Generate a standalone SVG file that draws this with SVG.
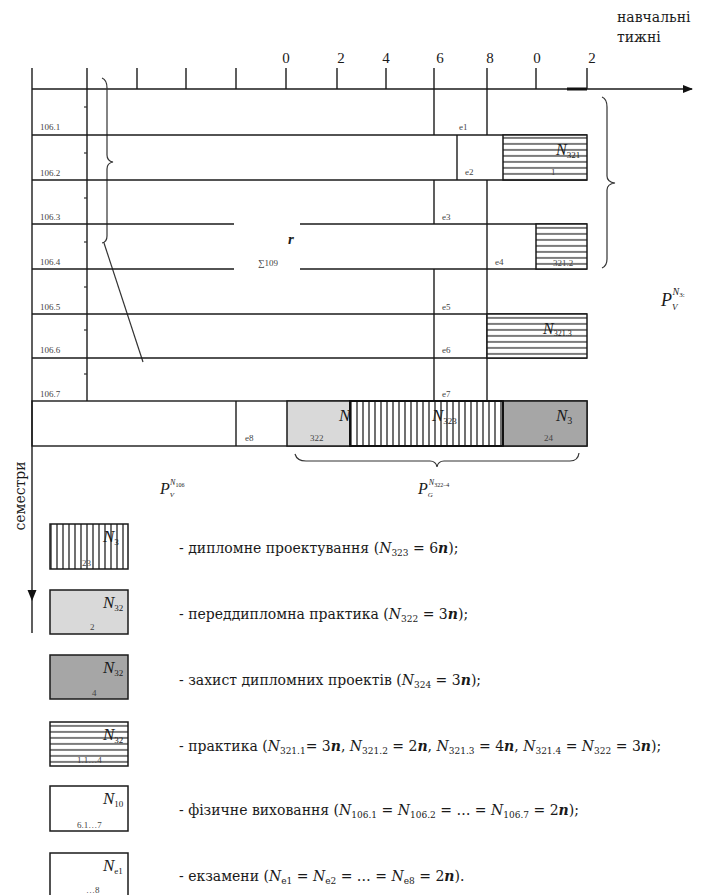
<svg xmlns="http://www.w3.org/2000/svg" width="701" height="895" viewBox="0 0 701 895">
<defs>
<pattern id="hh" patternUnits="userSpaceOnUse" width="10" height="6" y="0.5"><rect width="10" height="6" fill="#fff"/><line x1="0" y1="5.5" x2="10" y2="5.5" stroke="#111" stroke-width="1.2"/></pattern>
<pattern id="vh" patternUnits="userSpaceOnUse" width="6" height="10" x="0"><rect width="6" height="10" fill="#fff"/><line x1="3" y1="0" x2="3" y2="10" stroke="#111" stroke-width="1.2"/></pattern>
<marker id="arr" markerWidth="10" markerHeight="8" refX="9" refY="4" orient="auto" markerUnits="userSpaceOnUse"><path d="M0,0 L10,4 L0,8 z" fill="#111"/></marker>
</defs>
<style>
text{font-family:'Liberation Serif','Times New Roman',serif}
.ln{stroke:#1a1a1a;stroke-width:1.4;fill:none}
.tk{stroke:#1a1a1a;stroke-width:1.4}
.br{stroke:#333;stroke-width:1.2;fill:none}
.t{fill:#1a1a1a}
.ax{font-size:15px}
.sm{font-size:9px;fill:#444}
.it{font-style:italic;fill:#1a1a1a}
.lg{font-family:'DejaVu Serif',serif;font-size:14px;fill:#1a1a1a}
.box{stroke:#1a1a1a;stroke-width:1.5}
</style>
<rect width="701" height="895" fill="#fff"/>

<g id="connectors">
<line class="ln" x1="32" y1="89" x2="692" y2="89" marker-end="url(#arr)"/>
<line x1="567" y1="89" x2="587" y2="89" stroke="#111" stroke-width="3"/>
<line class="ln" x1="32" y1="68" x2="32" y2="633"/>
<path d="M27.5,590 L36.5,590 L32,601 z" fill="#111"/>
<line class="ln" x1="87" y1="68" x2="87" y2="401"/>
<g class="tk">
<line x1="137" y1="68" x2="137" y2="89"/><line x1="186" y1="68" x2="186" y2="89"/><line x1="236" y1="68" x2="236" y2="89"/><line x1="286" y1="68" x2="286" y2="89"/><line x1="337" y1="68" x2="337" y2="89"/><line x1="386" y1="68" x2="386" y2="89"/><line x1="536" y1="68" x2="536" y2="89"/><line x1="587" y1="68" x2="587" y2="89"/>
</g>
<g stroke="#333" stroke-width="1.2">
<line x1="84" y1="107" x2="87" y2="107"/><line x1="84" y1="153" x2="87" y2="153"/><line x1="84" y1="198" x2="87" y2="198"/><line x1="84" y1="242" x2="87" y2="242"/><line x1="84" y1="287" x2="87" y2="287"/><line x1="84" y1="330" x2="87" y2="330"/><line x1="84" y1="374" x2="87" y2="374"/>
</g>
<path class="br" d="M102,78 Q107,80 107,88 L107,155 Q107,161 113,162 Q107,163 107,169 L107,236 Q107,242 102,243"/>
<line class="br" x1="104" y1="243" x2="143" y2="362"/>
<path class="br" d="M602,97 Q607,99 607,107 L607,176 Q607,182 615,183 Q607,184 607,190 L607,259 Q607,266 602,268"/>
<path class="br" d="M295,454 Q297,461 306,461 L430,461 Q436,461 437,467 Q438,461 444,461 L570,461 Q578,461 579,453"/>
</g>

<g id="axis-labels">
<text class="t ax" x="286" y="63" text-anchor="middle">0</text>
<text class="t ax" x="341" y="63" text-anchor="middle">2</text>
<text class="t ax" x="386" y="63" text-anchor="middle">4</text>
<text class="t ax" x="440" y="63" text-anchor="middle">6</text>
<text class="t ax" x="490" y="63" text-anchor="middle">8</text>
<text class="t ax" x="537" y="63" text-anchor="middle">0</text>
<text class="t ax" x="592" y="63" text-anchor="middle">2</text>
<text class="t" x="617" y="22" font-size="14" style="font-family:'DejaVu Serif',serif">навчальні</text>
<text class="t" x="617" y="42" font-size="14" style="font-family:'DejaVu Serif',serif">тижні</text>
<text class="t" font-size="14" transform="translate(25,496) rotate(-90)" text-anchor="middle" style="font-family:'DejaVu Serif',serif">семестри</text>
</g>

<g id="grid">
<g class="ln">
<line x1="32" y1="135" x2="587" y2="135"/>
<line x1="32" y1="180" x2="587" y2="180"/>
<line x1="32" y1="224" x2="234" y2="224"/><line x1="300" y1="224" x2="587" y2="224"/>
<line x1="32" y1="269" x2="234" y2="269"/><line x1="300" y1="269" x2="587" y2="269"/>
<line x1="32" y1="314" x2="587" y2="314"/>
<line x1="32" y1="358" x2="587" y2="358"/>
<line x1="434" y1="68" x2="434" y2="135"/><line x1="434" y1="180" x2="434" y2="224"/><line x1="434" y1="269" x2="434" y2="401"/>
<line x1="487" y1="68" x2="487" y2="135"/><line x1="487" y1="180" x2="487" y2="401"/>
<line x1="457" y1="135" x2="457" y2="180"/>
</g>
<text class="sm" x="40" y="130">106.1</text>
<text class="sm" x="40" y="176">106.2</text>
<text class="sm" x="40" y="220">106.3</text>
<text class="sm" x="40" y="265">106.4</text>
<text class="sm" x="40" y="310">106.5</text>
<text class="sm" x="40" y="353">106.6</text>
<text class="sm" x="40" y="397">106.7</text>
<text class="sm" x="459" y="130">e1</text>
<text class="sm" x="465" y="175">e2</text>
<text class="sm" x="442" y="220">e3</text>
<text class="sm" x="495" y="265">e4</text>
<text class="sm" x="442" y="310">e5</text>
<text class="sm" x="442" y="353">e6</text>
<text class="sm" x="442" y="397">e7</text>
<text class="it" x="288" y="244" font-size="15" font-weight="bold">r</text>
<text class="sm" x="258" y="266">∑109</text>
</g>

<g id="practice-1">
<rect class="box" x="503" y="135" width="84" height="45" fill="url(#hh)"/>
<text class="it" x="556" y="155" font-size="16">N<tspan font-size="9" font-style="normal" dy="3">321</tspan></text>
<text class="sm" x="551" y="175" font-size="7">1</text>
</g>
<g id="practice-2">
<rect class="box" x="536" y="224" width="51" height="45" fill="url(#hh)"/>
<text class="sm" x="553" y="266">321.2</text>
</g>
<g id="practice-3">
<rect class="box" x="487" y="314" width="100" height="44" fill="url(#hh)"/>
<text class="it" x="543" y="334" font-size="16">N<tspan font-size="8" font-style="normal" dy="2">321.3</tspan></text>
</g>

<g id="bottom-row">
<rect class="ln" x="32" y="401" width="555" height="45"/>
<line class="ln" x1="236" y1="401" x2="236" y2="446"/>
<text class="sm" x="245" y="441">e8</text>
</g>
<g id="prediploma">
<rect x="287" y="401" width="63" height="45" fill="#d9d9d9" class="box"/>
<text class="it" x="339" y="421" font-size="17">N</text>
<text class="sm" x="310" y="441">322</text>
</g>
<g id="diploma">
<rect x="350" y="401" width="153" height="45" fill="url(#vh)" stroke="#111" stroke-width="2"/>
<text class="it" x="432" y="421" font-size="17">N<tspan font-size="9" font-style="normal" dy="3">323</tspan></text>
</g>
<g id="defense">
<rect x="503" y="401" width="84" height="45" fill="#a6a6a6" class="box"/>
<line x1="503" y1="401" x2="503" y2="446" stroke="#111" stroke-width="2"/>
<text class="it" x="556" y="421" font-size="17">N<tspan font-size="10" font-style="normal" dy="3">3</tspan></text>
<text class="sm" x="544" y="441">24</text>
</g>

<g id="p-labels">
<text class="it" x="160" y="494" font-size="16">P<tspan font-size="7" dy="3">V</tspan><tspan font-size="8" dx="-4" dy="-12">N</tspan><tspan font-size="6" font-style="normal" dy="2">106</tspan></text>
<text class="it" x="418" y="494" font-size="16">P<tspan font-size="7" dy="3">G</tspan><tspan font-size="8" dx="-4" dy="-12">N</tspan><tspan font-size="6" font-style="normal" dy="2">322–4</tspan></text>
<text class="it" x="661" y="306" font-size="18">P<tspan font-size="9" dy="4">V</tspan><tspan font-size="10" dx="-5" dy="-15">N</tspan><tspan font-size="7" font-style="normal" dy="2">3:</tspan></text>
</g>

<g id="legend-diploma">
<rect class="box" x="50" y="524" width="78" height="45" fill="url(#vh)"/>
<text class="it" x="103" y="542" font-size="17">N<tspan font-size="9" font-style="normal" dy="3">3</tspan></text>
<text class="sm" x="82" y="566" font-size="8">23</text>
<text class="lg" x="179" y="553">- дипломне проектування (<tspan font-style="italic">N</tspan><tspan font-size="9" dy="3">323</tspan><tspan dy="-3"> = 6</tspan><tspan font-style="italic" font-weight="bold">n</tspan>);</text>
</g>
<g id="legend-prediploma">
<rect class="box" x="50" y="590" width="78" height="44" fill="#d9d9d9"/>
<text class="it" x="103" y="608" font-size="17">N<tspan font-size="9" font-style="normal" dy="3">32</tspan></text>
<text class="sm" x="90" y="630" font-size="8">2</text>
<text class="lg" x="179" y="619">- переддипломна практика (<tspan font-style="italic">N</tspan><tspan font-size="9" dy="3">322</tspan><tspan dy="-3"> = 3</tspan><tspan font-style="italic" font-weight="bold">n</tspan>);</text>
</g>
<g id="legend-defense">
<rect class="box" x="50" y="655" width="78" height="44" fill="#a6a6a6"/>
<text class="it" x="103" y="673" font-size="17">N<tspan font-size="9" font-style="normal" dy="3">32</tspan></text>
<text class="sm" x="92" y="696" font-size="8">4</text>
<text class="lg" x="179" y="685">- захист дипломних проектів (<tspan font-style="italic">N</tspan><tspan font-size="9" dy="3">324</tspan><tspan dy="-3"> = 3</tspan><tspan font-style="italic" font-weight="bold">n</tspan>);</text>
</g>
<g id="legend-practice">
<rect class="box" x="50" y="722" width="78" height="44" fill="url(#hh)"/>
<text class="it" x="103" y="740" font-size="17">N<tspan font-size="9" font-style="normal" dy="3">32</tspan></text>
<text class="sm" x="77" y="763" font-size="8">1.1…4</text>
<text class="lg" x="179" y="751">- практика (<tspan font-style="italic">N</tspan><tspan font-size="9" dy="3">321.1</tspan><tspan dy="-3">= 3</tspan><tspan font-style="italic" font-weight="bold">n</tspan>, <tspan font-style="italic">N</tspan><tspan font-size="9" dy="3">321.2</tspan><tspan dy="-3"> = 2</tspan><tspan font-style="italic" font-weight="bold">n</tspan>, <tspan font-style="italic">N</tspan><tspan font-size="9" dy="3">321.3</tspan><tspan dy="-3"> = 4</tspan><tspan font-style="italic" font-weight="bold">n</tspan>, <tspan font-style="italic">N</tspan><tspan font-size="9" dy="3">321.4</tspan><tspan dy="-3"> = </tspan><tspan font-style="italic">N</tspan><tspan font-size="9" dy="3">322</tspan><tspan dy="-3"> = 3</tspan><tspan font-style="italic" font-weight="bold">n</tspan>);</text>
</g>
<g id="legend-pe">
<rect class="box" x="50" y="786" width="78" height="45" fill="#fff"/>
<text class="it" x="103" y="804" font-size="17">N<tspan font-size="9" font-style="normal" dy="3">10</tspan></text>
<text class="sm" x="77" y="828" font-size="8">6.1…7</text>
<text class="lg" x="179" y="815">- фізичне виховання (<tspan font-style="italic">N</tspan><tspan font-size="9" dy="3">106.1</tspan><tspan dy="-3"> = </tspan><tspan font-style="italic">N</tspan><tspan font-size="9" dy="3">106.2</tspan><tspan dy="-3"> = … = </tspan><tspan font-style="italic">N</tspan><tspan font-size="9" dy="3">106.7</tspan><tspan dy="-3"> = 2</tspan><tspan font-style="italic" font-weight="bold">n</tspan>);</text>
</g>
<g id="legend-exams">
<rect class="box" x="50" y="853" width="78" height="45" fill="#fff"/>
<text class="it" x="103" y="871" font-size="17">N<tspan font-size="9" font-style="normal" dy="3">e1</tspan></text>
<text class="sm" x="86" y="893" font-size="8">…8</text>
<text class="lg" x="179" y="881">- екзамени (<tspan font-style="italic">N</tspan><tspan font-size="9" dy="3">e1</tspan><tspan dy="-3"> = </tspan><tspan font-style="italic">N</tspan><tspan font-size="9" dy="3">e2</tspan><tspan dy="-3"> = … = </tspan><tspan font-style="italic">N</tspan><tspan font-size="9" dy="3">e8</tspan><tspan dy="-3"> = 2</tspan><tspan font-style="italic" font-weight="bold">n</tspan>).</text>
</g>
</svg>
